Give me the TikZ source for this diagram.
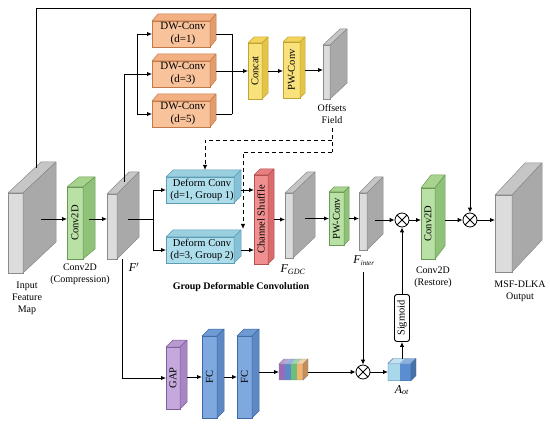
\documentclass[tikz,border=0pt]{standalone}
\usepackage{fontspec}
\setmainfont{Liberation Serif}
\usetikzlibrary{arrows.meta,calc}
\definecolor{gryF}{HTML}{DCDCDC}\definecolor{gryS}{HTML}{A9A9A9}\definecolor{gryT}{HTML}{C6C6C6}\definecolor{gryD}{HTML}{8A8A8A}
\definecolor{grnF}{HTML}{B9E0A5}\definecolor{grnS}{HTML}{8FC278}\definecolor{grnT}{HTML}{A8D38F}\definecolor{grnD}{HTML}{6A9955}
\definecolor{orgF}{HTML}{F8C29A}\definecolor{orgS}{HTML}{E39C6B}\definecolor{orgT}{HTML}{F2B083}\definecolor{orgD}{HTML}{C17A48}
\definecolor{ylwF}{HTML}{F9E27B}\definecolor{ylwS}{HTML}{E3C447}\definecolor{ylwT}{HTML}{F2D45A}\definecolor{ylwD}{HTML}{C4A335}
\definecolor{cynF}{HTML}{ADDCEB}\definecolor{cynS}{HTML}{84C1D6}\definecolor{cynT}{HTML}{9ACFE0}\definecolor{cynD}{HTML}{5E9DB3}
\definecolor{redF}{HTML}{EF8F8F}\definecolor{redS}{HTML}{D86B6B}\definecolor{redT}{HTML}{E77F7F}\definecolor{redD}{HTML}{B35050}
\definecolor{purF}{HTML}{C6A9DC}\definecolor{purS}{HTML}{A886C4}\definecolor{purT}{HTML}{B899D0}\definecolor{purD}{HTML}{7E5E9C}
\definecolor{bluF}{HTML}{7EA8DE}\definecolor{bluS}{HTML}{5D88C4}\definecolor{bluT}{HTML}{6F9AD4}\definecolor{bluD}{HTML}{3D6AA5}
\definecolor{vP}{HTML}{9A6BB8}\definecolor{vB}{HTML}{5C8AC9}\definecolor{vG}{HTML}{6BBF7A}\definecolor{vO}{HTML}{F5B36E}
\definecolor{aL}{HTML}{A8D8EA}\definecolor{aR}{HTML}{5A8ED0}
\newcommand{\blk}[8]{%
 \node[draw=#8D, fill=#8F, minimum width=#4pt, minimum height=#5pt, inner sep=0pt, outer sep=0pt, line width=0.5pt] (#1) at (#2,#3) {};
 \filldraw[draw=#8D, fill=#8T, line width=0.5pt, line join=round] (#1.north west) -- ++(#6pt,#7pt) -- ([shift={(#6pt,#7pt)}]#1.north east) -- (#1.north east) -- cycle;
 \filldraw[draw=#8D, fill=#8S, line width=0.5pt, line join=round] (#1.north east) -- ++(#6pt,#7pt) -- ([shift={(#6pt,#7pt)}]#1.south east) -- (#1.south east) -- cycle;}
\tikzset{
 arr/.style={-{Latex[length=5pt,width=4.5pt]}, line width=0.9pt},
 ln/.style={line width=0.9pt},
 dsh/.style={dash pattern=on 4pt off 3pt, line width=0.9pt},
 lab/.style={font=\fontsize{10}{12}\selectfont, inner sep=0pt, align=center},
 boxt/.style={font=\fontsize{10.5}{12.5}\selectfont, inner sep=0pt, align=center},
 rott/.style={font=\fontsize{10.5}{12}\selectfont, inner sep=0pt, rotate=90},
 mul/.style={circle, draw, line width=0.8pt, minimum size=14pt, inner sep=0pt, fill=white,
  path picture={\draw[line width=0.8pt] (path picture bounding box.north west) -- (path picture bounding box.south east)
   (path picture bounding box.south west) -- (path picture bounding box.north east);}}
}
\begin{document}
\begin{tikzpicture}[x=1pt,y=-1pt]
\useasboundingbox (0,0) rectangle (550,428);
% blocks
\blk{in}{15.5}{233}{15}{80}{33}{31}{gry}
\blk{cc}{75}{223}{16}{72}{12}{10}{grn}
\blk{fp}{112}{226.5}{10}{65}{22}{22}{gry}
\blk{dw1}{181}{34}{58}{26}{6}{7}{org}
\blk{dw3}{181}{74}{58}{26}{6}{7}{org}
\blk{dw5}{181}{114}{58}{26}{6}{7}{org}
\blk{cat}{255}{71}{14}{56}{6}{6}{ylw}
\blk{pw1}{291.5}{70}{17}{56}{5}{5}{ylw}
\blk{off}{326.5}{72}{7}{54}{17}{16}{gry}
\blk{df1}{200}{190}{68}{26}{7}{7}{cyn}
\blk{df2}{200}{250}{68}{26}{7}{7}{cyn}
\blk{cs}{261}{219.5}{14}{89}{6}{6}{red}
\blk{gdc}{289}{225.5}{8}{65}{22}{21}{gry}
\blk{pw2}{336.5}{218.5}{15}{53}{5}{5}{grn}
\blk{fint}{363}{221.5}{8}{57}{16}{16}{gry}
\blk{cr}{428}{223.5}{14}{71}{10}{13}{grn}
\blk{out}{503.5}{233.5}{17}{77}{30}{32}{gry}
\blk{gap}{173}{378}{14}{62}{7}{7}{pur}
\blk{fc1}{209.5}{377}{15}{82}{7}{7}{blu}
\blk{fc2}{244.5}{377}{15}{82}{7}{7}{blu}
% multi-colour vector
\node[minimum width=24pt, minimum height=16pt, inner sep=0pt, outer sep=0pt] (vec) at (291,372) {};
\foreach \c [count=\i from 0] in {vP,vB,vG,vO}{
 \fill[\c] ([xshift=\i*6pt]vec.south west) rectangle ([xshift=(\i+1)*6pt]vec.north west);
 \fill[\c!65!white] ([xshift=\i*6pt]vec.north west) -- ++(5pt,5pt) -- ++(6pt,0pt) -- ++(-5pt,-5pt) -- cycle;}
\filldraw[draw=gryD, fill=vO!80!black, line width=0.4pt] (vec.north east) -- ++(5pt,5pt) -- ++(0pt,-16pt) -- (vec.south east) -- cycle;
\draw[gryD, line width=0.4pt] (vec.south west) rectangle (vec.north east) (vec.north west) -- ++(5pt,5pt) -- ++(24pt,0pt);
% A_ot cube
\node[minimum width=23pt, minimum height=17pt, inner sep=0pt, outer sep=0pt] (aot) at (399.5,372) {};
\fill[aL] (aot.south west) rectangle ([xshift=11.5pt]aot.north west);
\fill[aR] ([xshift=11.5pt]aot.south west) rectangle (aot.north east);
\fill[aL!70!white] (aot.north west) -- ++(5pt,5pt) -- ++(11.5pt,0pt) -- ++(-5pt,-5pt) -- cycle;
\fill[aR!70!white] ([xshift=11.5pt]aot.north west) -- ++(5pt,5pt) -- ++(11.5pt,0pt) -- ++(-5pt,-5pt) -- cycle;
\filldraw[draw=bluD, fill=aR!80!black, line width=0.4pt] (aot.north east) -- ++(5pt,5pt) -- ++(0pt,-17pt) -- (aot.south east) -- cycle;
\draw[bluD, line width=0.4pt] (aot.south west) rectangle (aot.north east) (aot.north west) -- ++(5pt,5pt) -- ++(23pt,0pt);
% sigmoid and multiplications
\node[draw, rounded corners=2.5pt, line width=0.9pt, minimum width=15pt, minimum height=47pt, inner sep=0pt] (sig) at (402,318) {};
\node[rott] (sigt) at (sig) {Sigmoid};
\node[mul] (m1) at (402,220) {};
\node[mul] (m2) at (470,220) {};
\node[mul] (m3) at (363,372) {};
% block texts
\node[rott] (cct) at (cc) {Conv2D};
\node[boxt, font=\fontsize{11}{13}\selectfont] (dw1t) at (183,34) {DW-Conv\\(d=1)};
\node[boxt, font=\fontsize{11}{13}\selectfont] (dw3t) at (183,74) {DW-Conv\\(d=3)};
\node[boxt, font=\fontsize{11}{13}\selectfont] (dw5t) at (183,114) {DW-Conv\\(d=5)};
\node[rott] (catt) at (cat) {Concat};
\node[rott] (pw1t) at (pw1) {PW-Conv};
\node[boxt] (df1t) at (202,190) {Deform Conv\\(d=1, Group 1)};
\node[boxt] (df2t) at (202,250) {Deform Conv\\(d=3, Group 2)};
\node[rott] (cst) at (cs) {Channel Shuffle};
\node[rott] (pw2t) at (pw2) {PW-Conv};
\node[rott] (crt) at (cr) {Conv2D};
\node[rott] (gapt) at (gap) {GAP};
\node[rott] (fc1t) at (fc1) {FC};
\node[rott] (fc2t) at (fc2) {FC};
% labels
\node[lab] (inl) at (27,298) {Input\\Feature\\Map};
\node[lab] (ccl) at (80,274.5) {Conv2D\\(Compression)};
\node[lab, font=\fontsize{12}{14}\selectfont] (fpl) at (134,267) {\textit{F}$'$};
\node[lab, font=\fontsize{10}{12}\selectfont\bfseries] (gdcl) at (241,287) {Group Deformable Convolution};
\node[lab, font=\fontsize{12}{14}\selectfont] (gdcn) at (293,270) {\textit{F}\textsubscript{\textit{GDC}}};
\node[lab, font=\fontsize{12}{14}\selectfont] (fintn) at (364,261) {\textit{F}\textsubscript{\textit{\fontsize{7}{8}\selectfont inter}}};
\node[lab] (crl) at (433,277) {Conv2D\\(Restore)};
\node[lab] (outl) at (520,291) {MSF-DLKA\\Output};
\node[lab, font=\fontsize{12}{14}\selectfont] (aotl) at (402,390) {\textit{A}\textsubscript{\textit{ot}}};
\node[lab] (offl) at (332,114) {Offsets\\Field};
% main row connectors
\coordinate (a0) at (41,219);
\draw[arr] (a0) -- (a0 -| cc.west);
\coordinate (a1) at (89,219);
\draw[arr] (a1) -- (a1 -| fp.west);
\coordinate (a2) at (128,219);
\coordinate (sp) at (153,219);
\draw[ln] (a2) -- (sp);
\draw[ln] (sp |- df1) -- (sp |- df2);
\draw[arr] (sp |- df1) -- (df1.west);
\draw[arr] (sp |- df2) -- (df2.west);
% upper branch
\coordinate (fpTop) at (124,182);
\draw[arr] (fpTop) |- (dw3.west);
\coordinate (sp2) at (137,0);
\draw[ln] (sp2 |- dw1) -- (sp2 |- dw5);
\draw[arr] (sp2 |- dw1) -- (dw1.west);
\draw[arr] (sp2 |- dw5) -- (dw5.west);
\coordinate (jn) at (232,0);
\draw[ln] ([xshift=6pt]dw1.east) -| (jn |- dw5);
\draw[ln] ([xshift=6pt]dw5.east) -- (jn |- dw5);
\draw[arr] ([xshift=6pt]dw3.east |- cat.west) -- (cat.west);
\draw[arr] ([xshift=6pt]cat.east) -- (cat.east -| pw1.west);
\draw[arr] ([xshift=5pt]pw1.east) -- (pw1.east -| off.west);
% dashed offsets
\coordinate (d0) at (332,128);
\coordinate (d1) at (332,140);
\coordinate (d2) at (332,152);
\coordinate (df1in) at (205,170);
\coordinate (csin) at (243,229);
\draw[dsh] (d0) -- (d2);
\draw[dsh, -{Latex[length=5pt,width=4.5pt]}] (d1) -| (df1in);
\draw[dsh, -{Latex[length=5pt,width=4.5pt]}] (d2) -| (csin);
% deform to shuffle and on
\draw[arr] ([xshift=7pt]df1.east) -- (df1.east -| cs.west);
\draw[arr] ([xshift=7pt]df2.east) -- (df2.east -| cs.west);
\draw[arr] ([xshift=6pt]cs.east) -- (cs.east -| gdc.west);
\draw[arr] ([xshift=12pt]gdc.east |- pw2.west) -- (pw2.west);
\draw[arr] ([xshift=5pt]pw2.east) -- (pw2.east -| fint.west);
\draw[arr] ([xshift=8pt]fint.east |- m1) -- (m1.west);
\draw[arr] (m1.east) -- (m1 -| cr.west);
\draw[arr] ([xshift=10pt]cr.east |- m2) -- (m2.west);
\draw[arr] (m2.east) -- (m2 -| out.west);
% skip connection
\coordinate (inTop) at (36,168);
\coordinate (tl) at (36,8);
\draw[arr] (inTop) -- (tl) -| (m2.north);
% attention branch
\coordinate (fintL) at (363,272);
\draw[arr] (fintL) -- (m3.north);
\draw[arr] ([xshift=10pt]fp.south) |- (gap.west);
\draw[arr] ([xshift=7pt]gap.east |- fc1.west) -- (fc1.west);
\draw[arr] ([xshift=7pt]fc1.east) -- (fc1.east -| fc2.west);
\draw[arr] ([xshift=7pt]fc2.east |- vec.west) -- (vec.west);
\draw[arr] ([xshift=5pt]vec.east) -- (m3.west);
\draw[arr] (m3.east) -- (aot.west);
\draw[arr] ([xshift=2.5pt,yshift=5pt]aot.north) -- (sig.south);
\draw[arr] (sig.north) -- (m1.south);
\end{tikzpicture}
\end{document}
